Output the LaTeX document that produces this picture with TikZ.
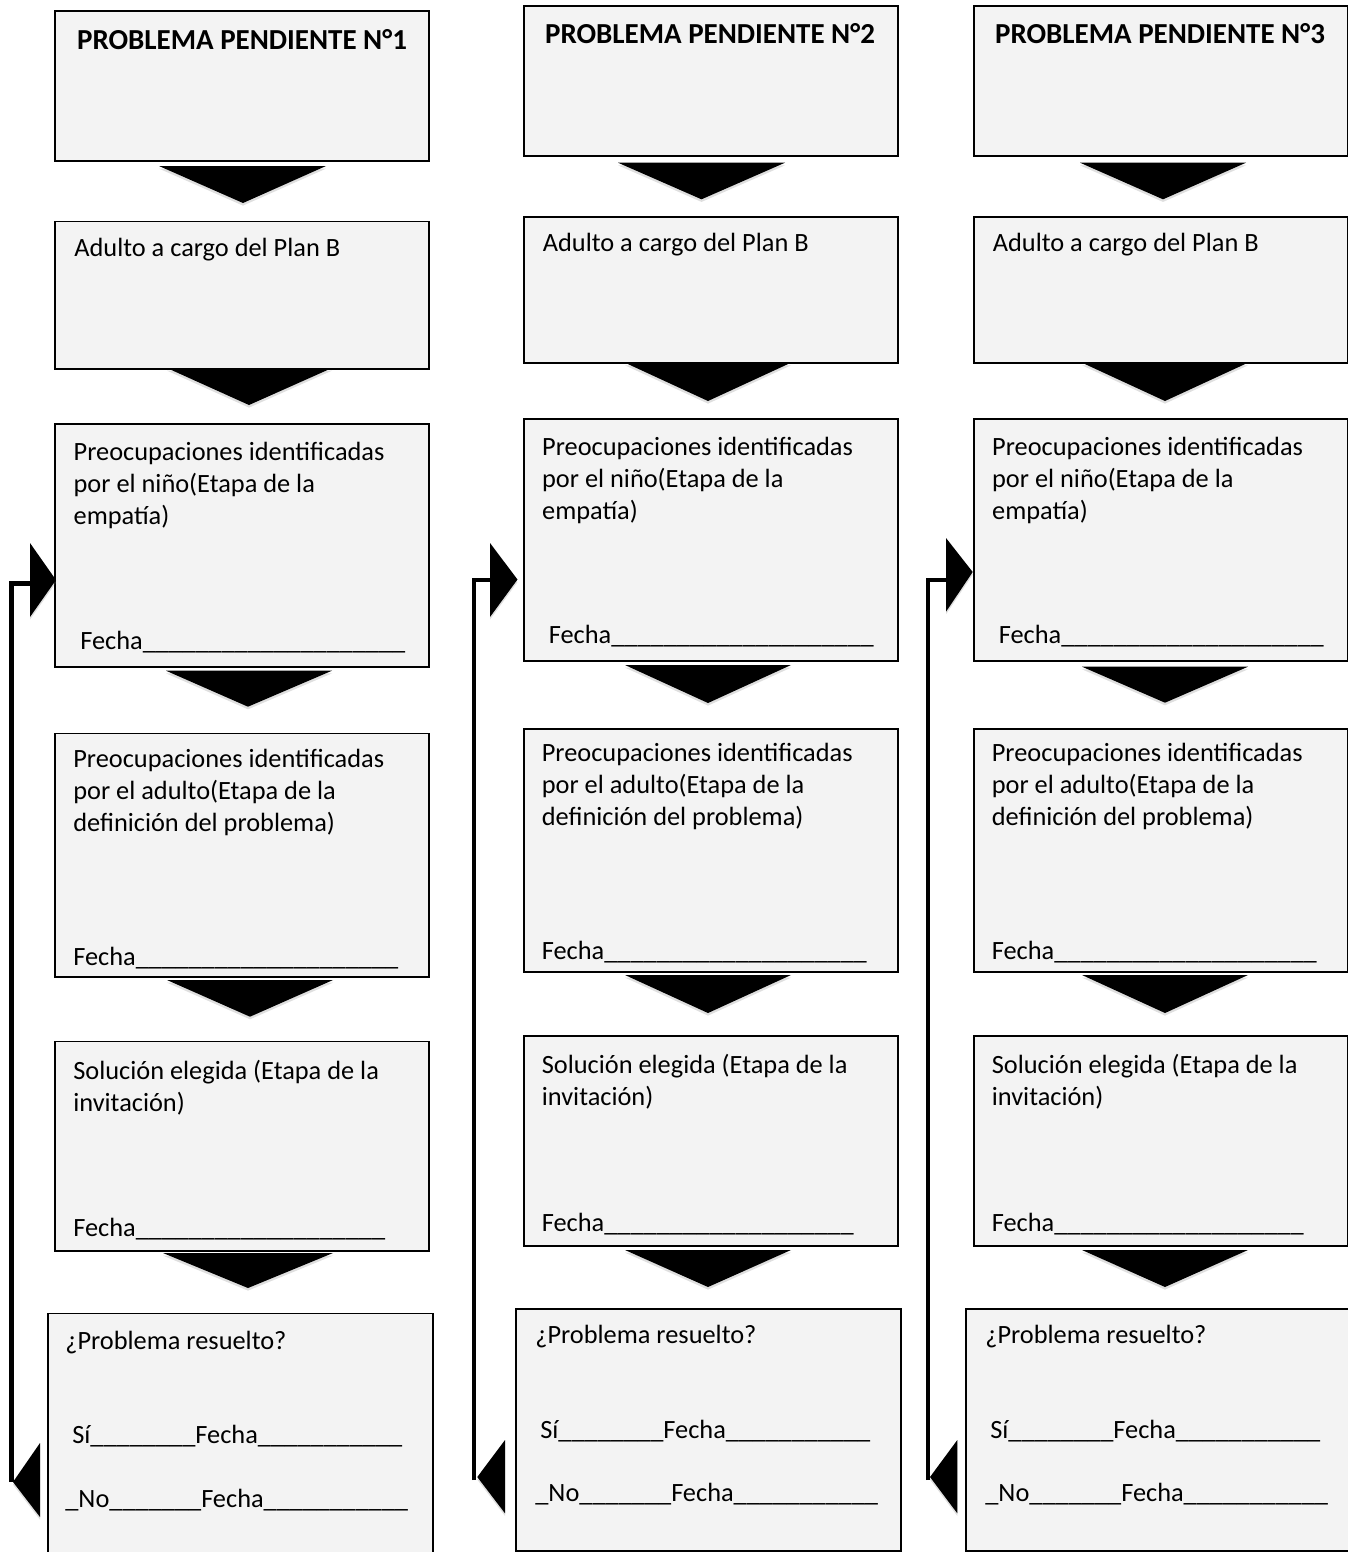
\documentclass[tikz,border=0pt]{standalone}
\usepackage{fontspec}
\setmainfont{Carlito}
\usetikzlibrary{shadows}
\definecolor{boxgray}{RGB}{243,243,243}

\begin{document}
\begin{tikzpicture}[x=0.02cm,y=-0.02cm,
  box/.style={draw,line width=1.1pt,fill=boxgray,inner sep=0pt,anchor=north west,minimum width=7.49cm},
  wide/.style={box,minimum width=7.7cm},
  txt/.style={inner sep=0pt,anchor=base west,align=left,font=\fontsize{15pt}{18.2pt}\selectfont},
  title/.style={inner sep=0pt,anchor=base,font=\fontsize{16.5pt}{20pt}\selectfont\bfseries},
  chev/.style={fill=black,drop shadow={shadow xshift=0pt,shadow yshift=-1.5pt,opacity=0.25}},
  loopline/.style={line width=2.8pt}]
  \useasboundingbox (0,0) rectangle (1348,1552);
  \clip (0,0) rectangle (1348,1552);

  % column 1 (multi-line texts sit on their last baseline)
  \node[box,minimum height=3.01cm] (a1) at (54,10) {};
  \node[box,minimum height=2.95cm] (a2) at (54,220.5) {};
  \node[box,minimum height=4.86cm] (a3) at (54,423) {};
  \node[box,minimum height=4.87cm] (a4) at (54,732.5) {};
  \node[box,minimum height=4.2cm] (a5) at (54,1040.5) {};
  \node[wide,minimum height=5cm] (a6) at (47,1312.5) {};
  \node[title] (a1t) at (242,49.3) {PROBLEMA PENDIENTE N°1};
  \node[txt] (a2t) at (74,256.7) {Adulto a cargo del Plan B};
  \node[txt] (a3t) at (73.3,524.7) {Preocupaciones identificadas\\por el niño(Etapa de la\\empatía)};
  \node[txt] (a3f) at (80,649) {Fecha\_\_\_\_\_\_\_\_\_\_\_\_\_\_\_\_\_\_\_\_};
  \node[txt] (a4t) at (73,831) {Preocupaciones identificadas\\por el adulto(Etapa de la\\definición del problema)};
  \node[txt] (a4f) at (73,965) {Fecha\_\_\_\_\_\_\_\_\_\_\_\_\_\_\_\_\_\_\_\_};
  \node[txt] (a5t) at (73,1111) {Solución elegida (Etapa de la\\invitación)};
  \node[txt] (a5f) at (73,1236.7) {Fecha\_\_\_\_\_\_\_\_\_\_\_\_\_\_\_\_\_\_\_};
  \node[txt] (a6t) at (65,1349) {¿Problema resuelto?};
  \node[txt] (a6s) at (72,1443) {Sí\_\_\_\_\_\_\_\_Fecha\_\_\_\_\_\_\_\_\_\_\_};
  \node[txt] (a6n) at (65,1507) {\_No\_\_\_\_\_\_\_Fecha\_\_\_\_\_\_\_\_\_\_\_};
  \fill[chev] (159,166) -- (326,166) -- (243,203) -- cycle;
  \fill[chev] (167,368) -- (332,368) -- (249,405) -- cycle;
  \fill[chev] (166,670.7) -- (332,670.7) -- (248,706.7) -- cycle;
  \fill[chev] (167,980) -- (333,980) -- (250,1016.7) -- cycle;
  \fill[chev] (163,1253) -- (333,1253) -- (248,1288) -- cycle;
  \coordinate (a6out) at (11.5,1482);
  \coordinate (a3in) at (30,583.5);
  \draw[loopline] (a6out) |- (a3in);
  \fill[chev] (30,543) -- (30,617) -- (56,580) -- cycle;
  \fill[chev] (40,1443) -- (40,1517) -- (13,1482) -- cycle;

  % column 2
  \node[box,minimum height=3.01cm] (b1) at (522.7,5) {};
  \node[box,minimum height=2.93cm] (b2) at (522.7,216) {};
  \node[box,minimum height=4.85cm] (b3) at (522.7,418) {};
  \node[box,minimum height=4.86cm] (b4) at (522.7,728) {};
  \node[box,minimum height=4.21cm] (b5) at (522.7,1035) {};
  \node[wide,minimum height=4.84cm] (b6) at (515,1308) {};
  \node[title] (b1t) at (710,43.5) {PROBLEMA PENDIENTE N°2};
  \node[txt] (b2t) at (542.5,251) {Adulto a cargo del Plan B};
  \node[txt] (b3t) at (541.8,519) {Preocupaciones identificadas\\por el niño(Etapa de la\\empatía)};
  \node[txt] (b3f) at (548.5,643.5) {Fecha\_\_\_\_\_\_\_\_\_\_\_\_\_\_\_\_\_\_\_\_};
  \node[txt] (b4t) at (541.5,825.5) {Preocupaciones identificadas\\por el adulto(Etapa de la\\definición del problema)};
  \node[txt] (b4f) at (541.5,959.5) {Fecha\_\_\_\_\_\_\_\_\_\_\_\_\_\_\_\_\_\_\_\_};
  \node[txt] (b5t) at (541.5,1105.5) {Solución elegida (Etapa de la\\invitación)};
  \node[txt] (b5f) at (541.5,1231) {Fecha\_\_\_\_\_\_\_\_\_\_\_\_\_\_\_\_\_\_\_};
  \node[txt] (b6t) at (535,1343.3) {¿Problema resuelto?};
  \node[txt] (b6s) at (540,1438.3) {Sí\_\_\_\_\_\_\_\_Fecha\_\_\_\_\_\_\_\_\_\_\_};
  \node[txt] (b6n) at (535,1501.7) {\_No\_\_\_\_\_\_\_Fecha\_\_\_\_\_\_\_\_\_\_\_};
  \fill[chev] (618,162.7) -- (785,162.7) -- (701.5,199.3) -- cycle;
  \fill[chev] (625,362.7) -- (791,362.7) -- (708,401) -- cycle;
  \fill[chev] (625,665) -- (791,665) -- (708,703) -- cycle;
  \fill[chev] (625,975) -- (791,975) -- (708,1013) -- cycle;
  \fill[chev] (625,1250) -- (791,1250) -- (708,1287) -- cycle;
  \coordinate (b6out) at (474,1480);
  \coordinate (b3in) at (490,580);
  \draw[loopline] (b6out) |- (b3in);
  \fill[chev] (490,543) -- (490,617) -- (517.5,579.5) -- cycle;
  \fill[chev] (505,1440) -- (505,1513.3) -- (477.3,1477) -- cycle;

  % column 3
  \node[box,minimum height=3.01cm] (c1) at (972.7,5) {};
  \node[box,minimum height=2.93cm] (c2) at (972.7,216) {};
  \node[box,minimum height=4.85cm] (c3) at (972.7,418) {};
  \node[box,minimum height=4.86cm] (c4) at (972.7,728) {};
  \node[box,minimum height=4.21cm] (c5) at (972.7,1035) {};
  \node[wide,minimum height=4.84cm] (c6) at (965,1308) {};
  \node[title] (c1t) at (1160,43.5) {PROBLEMA PENDIENTE N°3};
  \node[txt] (c2t) at (992.5,251) {Adulto a cargo del Plan B};
  \node[txt] (c3t) at (991.8,519) {Preocupaciones identificadas\\por el niño(Etapa de la\\empatía)};
  \node[txt] (c3f) at (998.5,643.5) {Fecha\_\_\_\_\_\_\_\_\_\_\_\_\_\_\_\_\_\_\_\_};
  \node[txt] (c4t) at (991.5,825.5) {Preocupaciones identificadas\\por el adulto(Etapa de la\\definición del problema)};
  \node[txt] (c4f) at (991.5,959.5) {Fecha\_\_\_\_\_\_\_\_\_\_\_\_\_\_\_\_\_\_\_\_};
  \node[txt] (c5t) at (991.5,1105.5) {Solución elegida (Etapa de la\\invitación)};
  \node[txt] (c5f) at (991.5,1231) {Fecha\_\_\_\_\_\_\_\_\_\_\_\_\_\_\_\_\_\_\_};
  \node[txt] (c6t) at (985,1343.3) {¿Problema resuelto?};
  \node[txt] (c6s) at (990,1438.3) {Sí\_\_\_\_\_\_\_\_Fecha\_\_\_\_\_\_\_\_\_\_\_};
  \node[txt] (c6n) at (985,1501.7) {\_No\_\_\_\_\_\_\_Fecha\_\_\_\_\_\_\_\_\_\_\_};
  \fill[chev] (1080,162.7) -- (1246,162.7) -- (1163,199.3) -- cycle;
  \fill[chev] (1082,362.7) -- (1248,362.7) -- (1165,401) -- cycle;
  \fill[chev] (1082,666.7) -- (1248,666.7) -- (1165,702.7) -- cycle;
  \fill[chev] (1082,975) -- (1248,975) -- (1165,1013) -- cycle;
  \fill[chev] (1082,1250) -- (1248,1250) -- (1165,1287) -- cycle;
  \coordinate (c6out) at (928,1480);
  \coordinate (c3in) at (946,580);
  \draw[loopline] (c6out) |- (c3in);
  \fill[chev] (946,538) -- (946,611.7) -- (972.7,572) -- cycle;
  \fill[chev] (957.3,1440) -- (957.3,1513.3) -- (930,1477) -- cycle;
\end{tikzpicture}
\end{document}
